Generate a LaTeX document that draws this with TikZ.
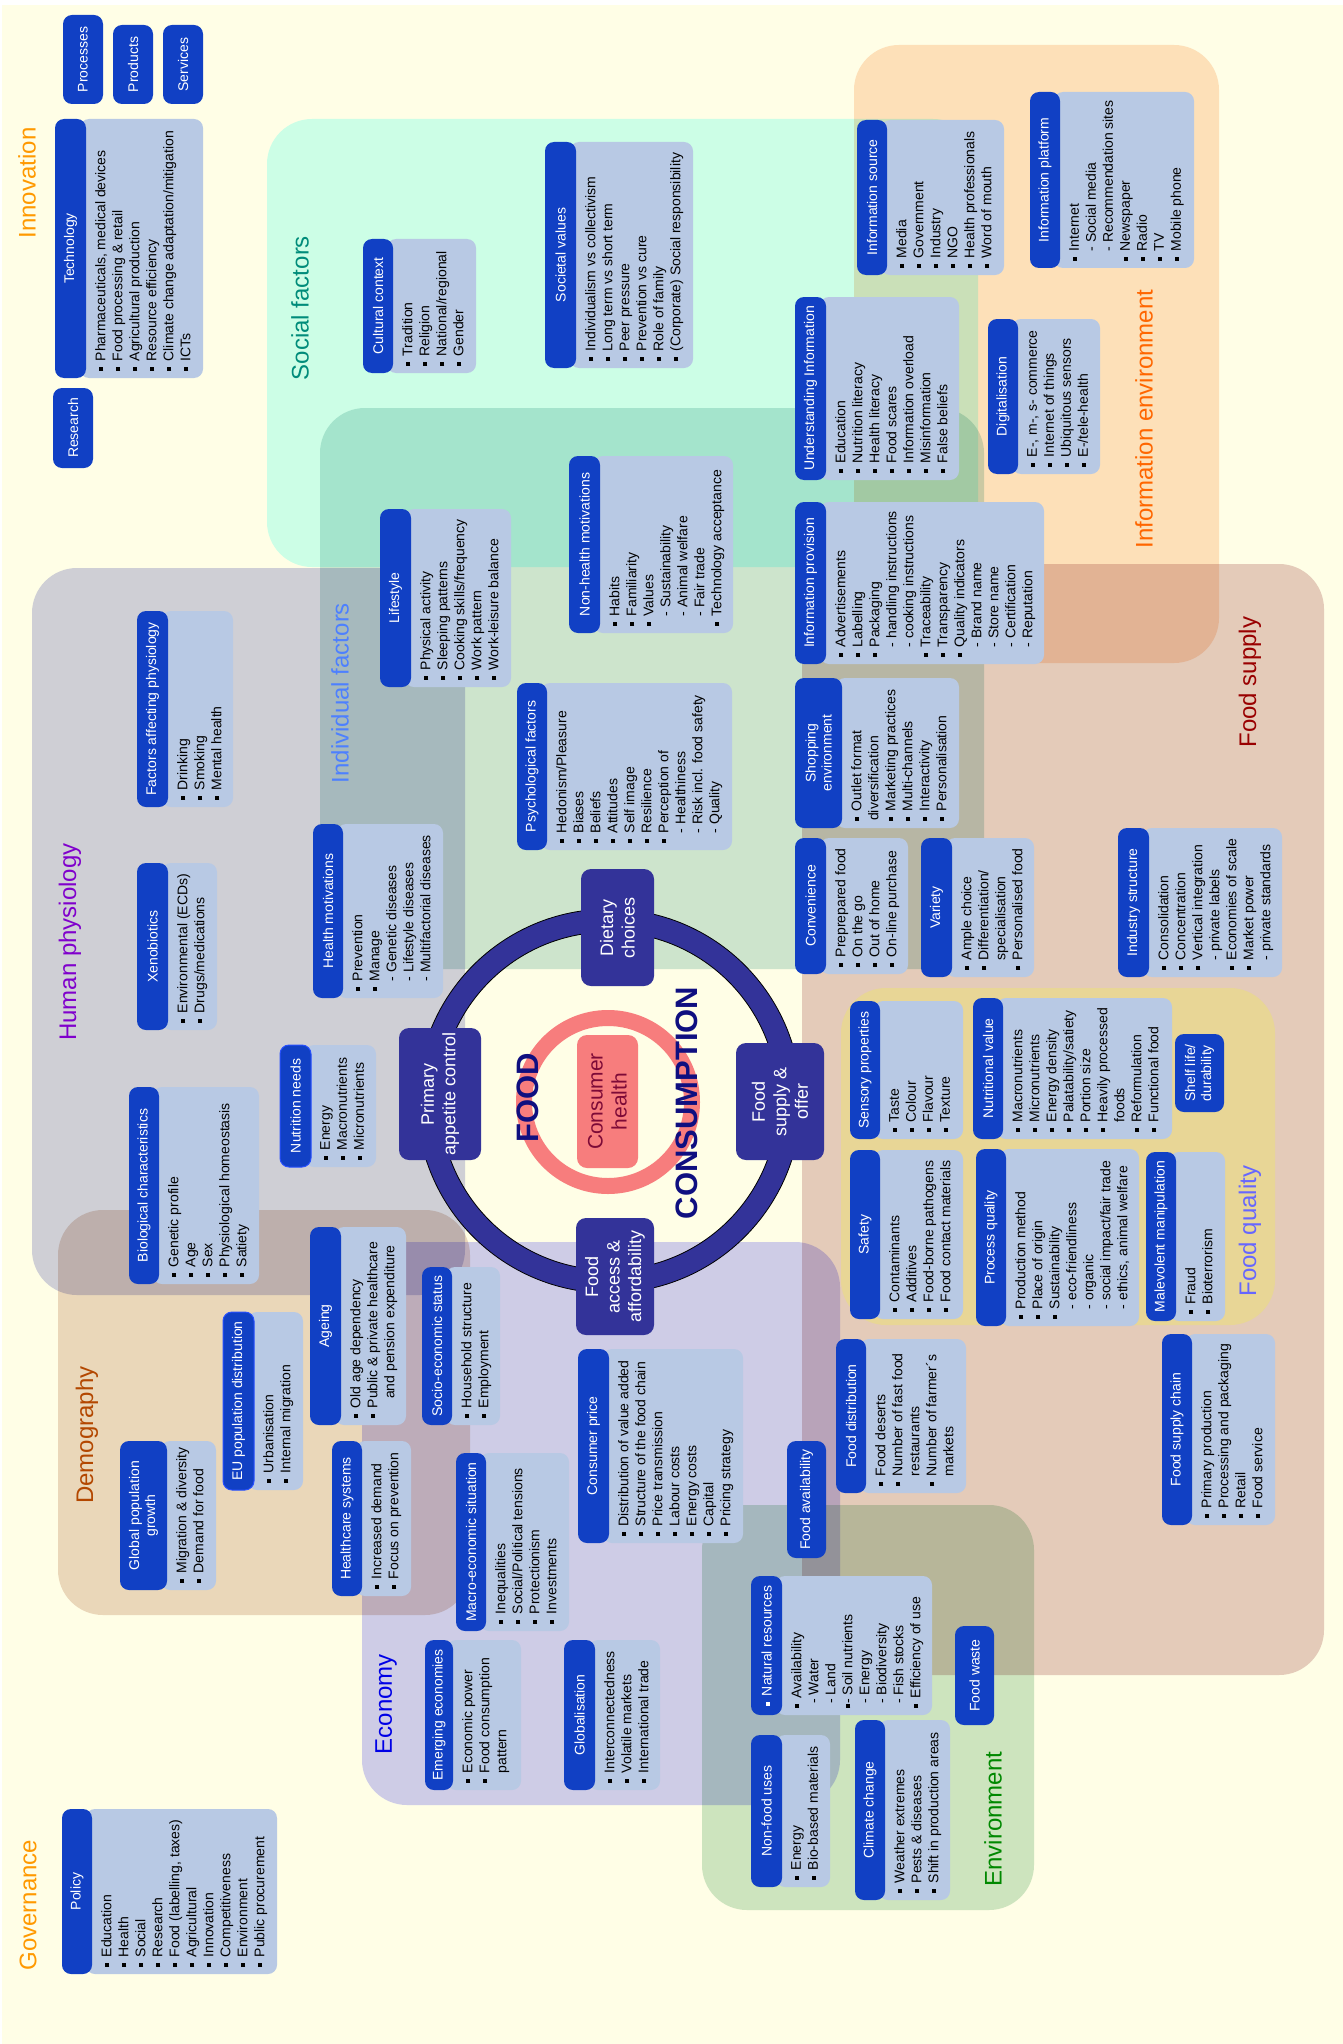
\documentclass[tikz,border=0pt]{standalone}
\usepackage{fontspec}
\setmainfont{Liberation Sans}
\usepackage{tikz}

\definecolor{hdrblue}{RGB}{17,64,196}
\definecolor{listblue}{RGB}{184,201,228}
\definecolor{ringblue}{RGB}{51,51,153}
\definecolor{salmon}{RGB}{247,125,125}
\definecolor{cream}{RGB}{255,254,230}
\definecolor{mint}{RGB}{204,255,255}
\definecolor{indivgreen}{RGB}{205,229,227}
\definecolor{physgrey}{RGB}{207,208,237}
\definecolor{peach}{RGB}{253,225,204}
\definecolor{supplybrown}{RGB}{228,204,206}
\definecolor{demotan}{RGB}{234,216,206}
\definecolor{econlav}{RGB}{206,205,255}
\definecolor{envgreen}{RGB}{205,229,211}
\definecolor{qualyellow}{RGB}{232,214,150}
\definecolor{brightblue}{RGB}{40,80,255}
\definecolor{navytxt}{RGB}{15,15,128}
\definecolor{healthtxt}{RGB}{125,10,55}

\newcommand{\bu}{\makebox[9.5pt][l]{\rule[2pt]{4pt}{4pt}}}
\newcommand{\subi}{\hspace*{9.5pt}- }
\newcommand{\cont}{\hspace*{9.5pt}}
% header column + list box
\newcommand{\catentry}[8]{%
  \fill[listfill] (#3-6,#4) rectangle (#6,#5);
  \fill[hdrfill] (#2,#4) rectangle (#3,#5);
  \node[hdrtxt] (#1) at ({(#2+#3)/2},{(#4+#5)/2}) {#7};
  \node[listtxt] (#1-list) at (#3+9,#5-7) {#8};
}
\newcommand{\onlyhdr}[6]{%
  \fill[hdrfill] (#2,#4) rectangle (#3,#5);
  \node[hdrtxt] (#1) at ({(#2+#3)/2},{(#4+#5)/2}) {#6};
}

\begin{document}
\begin{tikzpicture}[x=1pt,y=-1pt]
	\tikzset{hdrfill/.style={fill=hdrblue, rounded corners=9pt},
		listfill/.style={fill=listblue, rounded corners=9pt},
		hdrtxt/.style={rotate=90, text=white, align=center, inner sep=0pt, font=\fontsize{14}{16}\selectfont},
		listtxt/.style={rotate=90, anchor=north west, align=left, inner sep=0pt, font=\fontsize{14}{17}\selectfont},
		region/.style={rounded corners=45pt},
		ttl/.style={rotate=90, inner sep=0pt, font=\fontsize{24}{28}\selectfont},
		ringbox/.style={fill=ringblue, rounded corners=10pt},
		ringtxt/.style={rotate=90, text=white, align=center, inner sep=0pt, font=\fontsize{18}{21.5}\selectfont}}
	
	\useasboundingbox (0,0) rectangle (1343,2044);
	\fill[white] (0,0) rectangle (1343,2044);
	\fill[cream] (2,5) rectangle (1343,2044);
	
	% areas
	\begin{scope}[blend mode=multiply]
		\fill[region, mint] (267,119) rectangle (978,567);
		\fill[region, peach] (854,45) rectangle (1219,663);
		\fill[region, indivgreen] (320,408) rectangle (984,969);
		\fill[region, physgrey] (32,568) rectangle (465,1295);
		\fill[region, demotan] (58,1210) rectangle (470,1615);
		\fill[region, econlav] (362,1242) rectangle (840,1805);
		\fill[region, envgreen] (702,1505) rectangle (1034,1910);
		\fill[region, supplybrown] (802,564) rectangle (1324,1675);
	\end{scope}
	\fill[region, qualyellow] (841,988) rectangle (1275,1325);
	
	\node[ttl, text={rgb,255:red,255;green,153;blue,0}] (innovation) at (27,183) {Innovation};
	\node[ttl, text={rgb,255:red,0;green,140;blue,122}] (social) at (300,308) {Social factors};
	\node[ttl, text={rgb,255:red,255;green,102;blue,0}] (infoenv) at (1144,419) {Information environment};
	\node[ttl, text={rgb,255:red,128;green,0;blue,204}] (physiology) at (70,942) {Human physiology};
	\node[ttl, text={rgb,255:red,77;green,128;blue,255}] (individual) at (340,693) {Individual factors};
	\node[ttl, text={rgb,255:red,179;green,71;blue,0}] (demography) at (87,1435) {Demography};
	\node[ttl, text={rgb,255:red,0;green,0;blue,230}] (economy) at (386,1704) {Economy};
	\node[ttl, text={rgb,255:red,153;green,0;blue,0}] (foodsupply) at (1250,682) {Food supply};
	\node[ttl, text={rgb,255:red,102;green,102;blue,255}] (foodquality) at (1250,1231) {Food quality};
	\node[ttl, text={rgb,255:red,0;green,136;blue,0}] (environment) at (993,1819) {Environment};
	\node[ttl, text={rgb,255:red,255;green,153;blue,0}] (governance) at (28,1905) {Governance};
	
	% central ring
	\fill[ringblue, even odd rule] (609,1101) circle[radius=192pt] circle[radius=169pt];
	\draw[black, line width=0.8pt] (609,1101) circle[radius=192pt] circle[radius=169pt];
	\draw[salmon, line width=16pt] (608,1102) circle[radius=84pt];
	\fill[salmon, rounded corners=10pt] (577,1035) rectangle (638,1168);
	\node[rotate=90, align=center, inner sep=0pt, text=healthtxt, font=\fontsize{21}{24}\selectfont] (health) at (607.5,1101.5) {Consumer\\health};
	\node[rotate=90, inner sep=0pt, text=navytxt, font=\fontsize{31}{31}\selectfont\bfseries] (food) at (528,1098) {FOOD};
	\node[rotate=90, inner sep=0pt, text=navytxt, font=\fontsize{31}{31}\selectfont\bfseries] (consumption) at (687,1103) {CONSUMPTION};
	
	\fill[ringbox] (581,869) rectangle (654,986);
	\node[ringtxt] (dietary) at (617.5,927.5) {Dietary\\choices};
	\fill[ringbox] (399,1028) rectangle (481,1160);
	\node[ringtxt] (appetite) at (440,1094) {Primary\\appetite control};
	\fill[ringbox] (736,1043) rectangle (824,1160);
	\node[ringtxt] (offer) at (780,1101.5) {Food\\supply \&\\offer};
	\fill[ringbox] (576,1218) rectangle (654,1335);
	\node[ringtxt] (access) at (615,1276.5) {Food\\access \&\\affordability};
	
	% innovation
	\onlyhdr{processes}{63}{103}{15}{104}{Processes}
	\onlyhdr{products}{113}{153}{25}{104}{Products}
	\onlyhdr{services}{163}{203}{25}{104}{Services}
	\onlyhdr{research}{53}{93}{388}{468}{Research}
	\catentry{technology}{55}{86}{119}{378}{203}{Technology}{\bu Pharmaceuticals, medical devices\\\bu Food processing \& retail\\\bu Agricultural production\\\bu Resource efficiency\\\bu Climate change adaptation/mitigation\\\bu ICTs}
	
	% social factors
	\catentry{cultural}{363}{393}{239}{373}{476}{Cultural context}{\bu Tradition\\\bu Religion\\\bu National/regional\\\bu Gender}
	\catentry{societal}{545}{576}{142}{368}{693}{Societal values}{\bu Individualism vs collectivism\\\bu Long term vs short term\\\bu Peer pressure\\\bu Prevention vs cure\\\bu Role of family\\\bu (Corporate) Social responsibility}
	
	% information environment
	\catentry{infosource}{857}{887}{120}{275}{1004}{Information source}{\bu Media\\\bu Government\\\bu Industry\\\bu NGO\\\bu Health professionals\\\bu Word of mouth}
	\catentry{understanding}{795}{826}{297}{480}{959}{Understanding Information}{\bu Education\\\bu Nutrition literacy\\\bu Health literacy\\\bu Food scares\\\bu Information overload\\\bu Misinformation\\\bu False beliefs}
	\catentry{platform}{1030}{1060}{92}{268}{1194}{Information platform}{\bu Internet\\\subi Social media\\\subi Recommendation sites\\\bu Newspaper\\\bu Radio\\\bu TV\\\bu Mobile phone}
	\catentry{digital}{988}{1018}{319}{474}{1100}{Digitalisation}{\bu E-, m-, s- commerce\\\bu Internet of things\\\bu Ubiquitous sensors\\\bu E-/tele-health}
	\catentry{provision}{795}{826}{502}{664}{1044}{Information provision}{\bu Advertisements\\\bu Labelling\\\bu Packaging\\\subi handling instructions\\\subi cooking instructions\\\bu Traceability\\\bu Transparency\\\bu Quality indicators\\\subi Brand name\\\subi Store name\\\subi Certification\\\subi Reputation}
	
	% human physiology
	\catentry{affecting}{137}{168}{611}{807}{233}{Factors affecting physiology}{\bu Drinking\\\bu Smoking\\\bu Mental health}
	\catentry{xeno}{137}{168}{863}{1030}{217}{Xenobiotics}{\bu Environmental (ECDs)\\\bu Drugs/medications}
	\catentry{biological}{129}{159}{1087}{1284}{259}{Biological characteristics}{\bu Genetic profile\\\bu Age\\\bu Sex\\\bu Physiological homeostasis\\\bu Satiety}
	\catentry{nutrition}{280}{311}{1045}{1167}{376}{Nutrition needs}{\bu Energy\\\bu Macronutrients\\\bu Micronutrients}
	\draw[brightblue, line width=1pt, rounded corners=9pt] (280,1045) rectangle (311,1167);
	
	% individual factors
	\catentry{lifestyle}{380}{411}{509}{687}{511}{Lifestyle}{\bu Physical activity\\\bu Sleeping patterns\\\bu Cooking skills/frequency\\\bu Work pattern\\\bu Work-leisure balance}
	\catentry{healthmot}{313}{343}{824}{998}{443}{Health motivations}{\bu Prevention\\\bu Manage\\\subi Genetic diseases\\\subi Lifestyle diseases\\\subi Multifactorial diseases}
	\catentry{nonhealth}{569}{600}{456}{633}{733}{Non-health motivations}{\bu Habits\\\bu Familiarity\\\bu Values\\\subi Sustainability\\\subi Animal welfare\\\subi Fair trade\\\bu Technology acceptance}
	\catentry{psycho}{517}{547}{683}{850}{732}{Psychological factors}{\bu Hedonism/Pleasure\\\bu Biases\\\bu Beliefs\\\bu Attitudes\\\bu Self image\\\bu Resilience\\\bu Perception of\\\subi Healthiness\\\subi Risk incl. food safety\\\subi Quality}
	
	% food supply
	\catentry{shopping}{795}{842}{678}{828}{959}{Shopping\\environment}{\bu Outlet format\\diversification\\\bu Marketing practices\\\bu Multi-channels\\\bu Interactivity\\\bu Personalisation}
	\catentry{convenience}{795}{826}{838}{974}{908}{Convenience}{\bu Preprepared food\\\bu On the go\\\bu Out of home\\\bu On-line purchase}
	\catentry{variety}{921}{952}{838}{977}{1034}{Variety}{\bu Ample choice\\\bu Differentiation/\\\cont specialisation\\\bu Personalised food}
	\catentry{industry}{1118}{1149}{828}{977}{1282}{Industry structure}{\bu Consolidation\\\bu Concentration\\\bu Vertical integration\\\subi private labels\\\bu Economies of scale\\\bu Market power\\\subi private standards}
	\catentry{distribution}{836}{866}{1339}{1493}{966}{Food distribution}{\bu Food deserts\\\bu Number of fast food\\\cont restaurants\\\bu Number of farmer´s\\\cont markets}
	\catentry{chain}{1162}{1192}{1334}{1525}{1275}{Food supply chain}{\bu Primary production\\\bu Processing and packaging\\\bu Retail\\\bu Food service}
	\onlyhdr{availability}{787}{826}{1441}{1558}{Food availability}
	
	% food quality
	\catentry{sensory}{850}{880}{1001}{1139}{963}{Sensory properties}{\bu Taste\\\bu Colour\\\bu Flavour\\\bu Texture}
	\catentry{safety}{850}{880}{1150}{1319}{963}{Safety}{\bu Contaminants\\\bu Additives\\\bu Food-borne pathogens\\\bu Food contact materials}
	\catentry{nutvalue}{973}{1003}{998}{1139}{1172}{Nutritional value}{\bu Macronutrients\\\bu Micronutrients\\\bu Energy density\\\bu Palatability/satiety\\\bu Portion size\\\bu Heavily processed\\\cont foods\\\bu Reformulation\\\bu Functional food}
	\catentry{process}{976}{1006}{1149}{1326}{1139}{Process quality}{\bu Production method\\\bu Place of origin\\\bu Sustainability\\\subi eco-friendliness\\\subi organic\\\subi social impact/fair trade\\\subi ethics, animal welfare}
	\catentry{malevolent}{1146}{1176}{1152}{1321}{1225}{Malevolent manipulation}{\bu Fraud\\\bu Bioterrorism}
	\onlyhdr{shelf}{1175}{1224}{1034}{1112}{Shelf life/\\durability}
	
	% demography
	\catentry{eupop}{223}{254}{1312}{1490}{303}{EU population distribution}{\bu Urbanisation\\\bu Internal migration}
	\draw[brightblue, line width=1pt, rounded corners=9pt] (223,1312) rectangle (254,1490);
	\catentry{ageing}{310}{341}{1227}{1425}{406}{Ageing}{\bu Old age dependency\\\bu Public \& private healthcare\\\hspace*{19pt}and pension expenditure}
	\catentry{globalpop}{120}{167}{1441}{1590}{216}{Global population\\growth}{\bu Migration \& diversity\\\bu Demand for food}
	\catentry{healthcare}{332}{362}{1441}{1596}{411}{Healthcare systems}{\bu Increased demand\\\bu Focus on prevention}
	
	% economy
	\catentry{socioeco}{422}{452}{1267}{1425}{500}{Socio-economic status}{\bu Household structure\\\bu Employment}
	\catentry{price}{578}{609}{1349}{1543}{743}{Consumer price}{\bu Distribution of value added\\\bu Structure of the food chain\\\bu Price transmission\\\bu Labour costs\\\bu Energy costs\\\bu Capital\\\bu Pricing strategy}
	\catentry{macro}{456}{486}{1453}{1631}{569}{Macro-economic situation}{\bu Inequalities\\\bu Social/Political tensions\\\bu Protectionism\\\bu Investments}
	\catentry{emerging}{425}{453}{1640}{1790}{521}{Emerging economies}{\bu Economic power\\\bu Food consumption\\\cont pattern}
	\catentry{global}{564}{595}{1640}{1790}{660}{Globalisation}{\bu Interconnectedness\\\bu Volatile markets\\\bu International trade}
	
	% environment
	\catentry{natural}{751}{782}{1576}{1715}{932}{\bu Natural resources}{\bu Availability\\\hspace*{4pt}- Water\\\hspace*{4pt}- Land\\\rule[2pt]{4pt}{4pt}- Soil nutrients\\\hspace*{4pt}- Energy\\\hspace*{4pt}- Biodiversity\\\hspace*{4pt}- Fish stocks\\\bu Efficiency of use}
	\catentry{nonfood}{751}{782}{1735}{1887}{830}{Non-food uses}{\bu Energy\\\bu Bio-based materials}
	\catentry{climate}{855}{885}{1720}{1900}{950}{Climate change}{\bu Weather extremes\\\bu Pests \& diseases\\\bu Shift in production areas}
	\onlyhdr{waste}{955}{994}{1626}{1725}{Food waste}
	
	% governance
	\catentry{policy}{62}{92}{1809}{1974}{277}{Policy}{\bu Education\\\bu Health\\\bu Social\\\bu Research\\\bu Food (labelling, taxes)\\\bu Agricultural\\\bu Innovation\\\bu Competitiveness\\\bu Environment\\\bu Public procurement}
	
\end{tikzpicture}
\end{document}
